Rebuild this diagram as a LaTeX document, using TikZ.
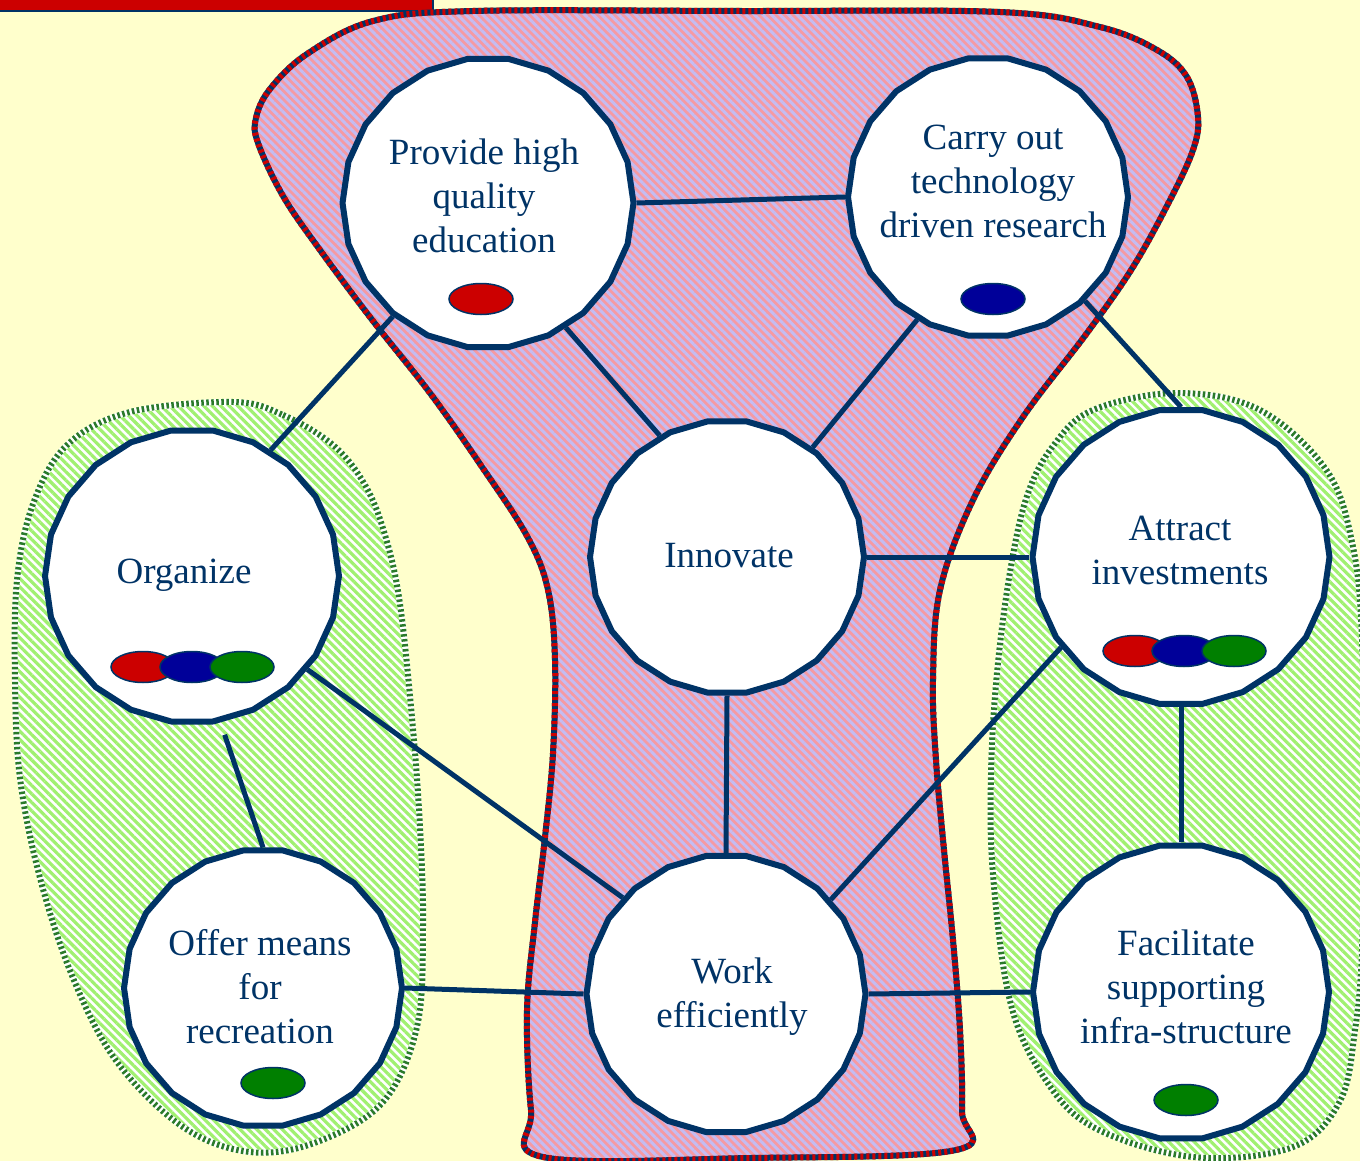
\documentclass[tikz,border=0pt]{standalone}
\usepackage{fontspec}
\setmainfont{Liberation Serif}
\usetikzlibrary{shapes.geometric,patterns.meta}
\definecolor{navy}{HTML}{003366}
\definecolor{bgyellow}{HTML}{FFFFCC}
\definecolor{redbar}{HTML}{CC0000}
\definecolor{pinkA}{HTML}{F59AA3}
\definecolor{lavB}{HTML}{C4BCF2}
\definecolor{greenA}{HTML}{A0F070}
\definecolor{greenD}{HTML}{2A7A2A}
\definecolor{dotred}{HTML}{CC0000}
\definecolor{dotblue}{HTML}{000099}
\definecolor{dotgreen}{HTML}{007F00}
\pgfdeclarelayer{bg}
\pgfdeclarelayer{lines}
\pgfsetlayers{bg,lines,main}
\tikzset{
  goal/.style={regular polygon, regular polygon sides=22, draw=navy, line width=6pt, line join=round, fill=white, inner sep=0pt},
  lbl/.style={text=navy, align=center, font=\fontsize{37}{44}\selectfont, inner sep=0pt},
  dot/.style={ellipse, draw=navy, line width=1.5pt, minimum width=64pt, minimum height=31pt, inner sep=0pt},
  link/.style={draw=navy, line width=5pt},
  redhatch/.style={pattern={Lines[angle=-45,distance=6pt,line width=3pt]}, pattern color=lavB},
  greenhatch/.style={pattern={Lines[angle=-45,distance=6pt,line width=3.2pt]}, pattern color=greenA},
}
\def\redpath{plot[smooth cycle, tension=0.6] coordinates {(258,143) (256,118) (270,89) (307,54) (373,21) (473,11) (740,11) (1000,12) (1100,27) (1157,50) (1187,77) (1198,117) (1193,150) (1170,200) (1133,267) (1087,333) (1023,417) (973,500) (940,590) (933,680) (936,760) (944,850) (953,940) (960,1030) (962,1111) (956,1150) (750,1158) (543,1157) (531,1110) (527,1010) (535,922) (545,837) (553,753) (555,660) (548,590) (527,536) (480,464) (430,393) (373,321) (320,250) (283,196)}}
\def\lgreenpath{plot[smooth cycle, tension=0.6] coordinates {(233,402) (283,415) (333,445) (365,485) (385,535) (400,604) (413,729) (420,828) (423,928) (417,1027) (383,1102) (317,1142) (250,1152) (183,1127) (117,1062) (73,978) (40,878) (20,778) (15,680) (17,580) (33,504) (67,445) (130,412)}}
\def\rgreenpath{plot[smooth cycle, tension=0.6] coordinates {(1177,393) (1260,410) (1327,471) (1353,547) (1362,640) (1364,800) (1362,950) (1355,1030) (1340,1101) (1293,1147) (1193,1157) (1093,1127) (1043,1076) (1010,1001) (993,875) (991,774) (997,673) (1010,572) (1027,496) (1053,446) (1093,410)}}
\begin{document}
\begin{tikzpicture}[x=1pt,y=-1pt]
\useasboundingbox (0,0) rectangle (1360,1161);
\begin{pgfonlayer}{bg}
\fill[bgyellow] (-10,-10) rectangle (1370,1171);
\fill[redbar, draw=navy, line width=2pt] (-10,-10) rectangle (433,11);
% green blobs
\fill[white] \lgreenpath;
\fill[greenhatch] \lgreenpath;
\draw[white, line width=6pt] \lgreenpath;
\draw[greenD, line width=6pt, dash pattern=on 2.5pt off 2.5pt] \lgreenpath;
\fill[white] \rgreenpath;
\fill[greenhatch] \rgreenpath;
\draw[white, line width=6pt] \rgreenpath;
\draw[greenD, line width=6pt, dash pattern=on 2.5pt off 2.5pt] \rgreenpath;
% red blob
\fill[pinkA] \redpath;
\fill[redhatch] \redpath;
\draw[navy, line width=6pt] \redpath;
\draw[redbar, line width=6pt, dash pattern=on 3pt off 3pt] \redpath;
\end{pgfonlayer}
% goal nodes
\node[goal, minimum size=291pt] (prov) at (488,203) {};
\node[goal, minimum size=280pt] (carry) at (988,197) {};
\node[goal, minimum size=274pt] (inn) at (727,557) {};
\node[goal, minimum size=294pt] (org) at (192,576) {};
\node[goal, minimum size=297pt] (attr) at (1181,557) {};
\node[goal, minimum size=278pt] (offer) at (263,988) {};
\node[goal, minimum size=279pt] (work) at (726,994) {};
\node[goal, minimum size=296pt] (fac) at (1181,992) {};
% labels
\node[lbl] (provT) at (484,196) {Provide high\\quality\\education};
\node[lbl] (carryT) at (993,181) {Carry out\\technology\\driven research};
\node[lbl] (innT) at (729,556) {Innovate};
\node[lbl] (orgT) at (184,575) {Organize};
\node[lbl] (attrT) at (1180,550) {Attract\\investments};
\node[lbl] (offerT) at (260,987) {Offer means\\for\\recreation};
\node[lbl] (workT) at (732,997) {Work\\efficiently};
\node[lbl] (facT) at (1186,987) {Facilitate\\supporting\\infra-structure};
% dots
\node[dot, fill=dotred] (provD) at (481,299) {};
\node[dot, fill=dotblue] (carryD) at (993,299) {};
\node[dot, fill=dotred] (orgD1) at (143,667) {};
\node[dot, fill=dotblue] (orgD2) at (192,667) {};
\node[dot, fill=dotgreen] (orgD3) at (242,667) {};
\node[dot, fill=dotred] (attrD1) at (1135,651) {};
\node[dot, fill=dotblue] (attrD2) at (1184,651) {};
\node[dot, fill=dotgreen] (attrD3) at (1234,651) {};
\node[dot, fill=dotgreen] (offerD) at (273,1083) {};
\node[dot, fill=dotgreen] (facD) at (1186,1100) {};
% connectors
\begin{pgfonlayer}{lines}
\draw[link] (prov.0) -- (carry.180);
\draw[link] (prov.-58) -- (inn.119);
\draw[link] (carry.-120) -- (inn.52);
\draw[link] (prov.-130) -- (org.58);
\draw[link] (carry.-47) -- (attr.90);
\draw[link] (inn.0) -- (attr.180);
\draw[link] (inn.-90) -- (work.90);
\draw[link] (org.-39) -- (work.137);
\draw[link, shorten <=13pt] (org.-79) -- (offer.90);
\draw[link] (attr.-143) -- (work.42);
\draw[link] (attr.-90) -- (fac.90);
\draw[link] (offer.0) -- (work.180);
\draw[link] (work.0) -- (fac.180);
\end{pgfonlayer}
\end{tikzpicture}
\end{document}
